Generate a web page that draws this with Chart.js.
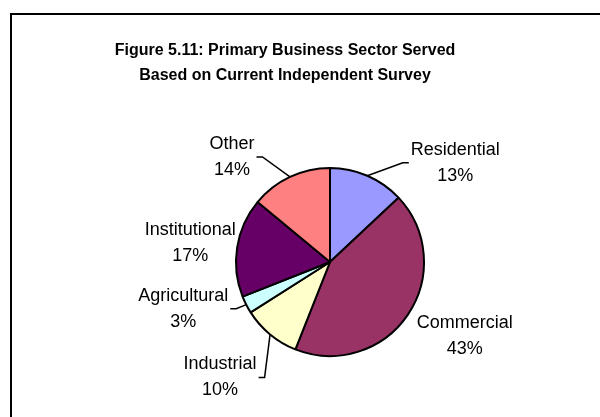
<!DOCTYPE html>
<html>
<head>
<meta charset="utf-8">
<script src="https://cdn.jsdelivr.net/npm/chart.js@4/dist/chart.umd.min.js"></script>
<style>
    body { margin: 0; background: #fff; }
    canvas { display: block; }
</style>
</head>
<body>
<canvas id="myChart" width="600" height="417"></canvas>
<script>
const titleLines = ['Figure 5.11: Primary Business Sector Served', 'Based on Current Independent Survey']
const sectors = ['Residential', 'Commercial', 'Industrial', 'Agricultural', 'Institutional', 'Other']
const shares = [13, 43, 10, 3, 17, 14]

const sliceColors = ['#9999FF', '#993366', '#FFFFCC', '#CCFFFF', '#660066', '#FF8080']
// label block offset from the middle of each slice's outer edge
const labelNudge = [[88, -13], [57, 21], [-50, 43], [-63, 4], [-47, -4], [-58, -20]]
const leader = [true, false, true, true, false, true]

const FONT = '"Liberation Sans", Arial, sans-serif'

// frame and title
const frameAndTitle = {
    id: 'frameAndTitle',
    beforeDraw(chart) {
        const ctx = chart.ctx
        ctx.save()
        ctx.fillStyle = '#fff'
        ctx.fillRect(0, 0, chart.width, chart.height)
        ctx.fillStyle = '#000'
        ctx.fillRect(10, 13, chart.width - 10, 2)
        ctx.fillRect(10, 13, 2, chart.height - 13)
        ctx.font = 'bold 16px ' + FONT
        ctx.textAlign = 'center'
        ctx.textBaseline = 'middle'
        ctx.fillText(titleLines[0], 285, 51)
        ctx.fillText(titleLines[1], 285, 76)
        ctx.restore()
    }
}

// category + percent labels with leader lines
const sectorLabels = {
    id: 'sectorLabels',
    afterDatasetsDraw(chart) {
        const ctx = chart.ctx
        const arcs = chart.getDatasetMeta(0).data
        ctx.save()
        ctx.font = '18px ' + FONT
        ctx.fillStyle = '#000'
        ctx.strokeStyle = '#000'
        ctx.lineWidth = 1.5
        ctx.textAlign = 'center'
        ctx.textBaseline = 'middle'

        for (let i = 0; i < arcs.length; i++) {
            const p = arcs[i].getProps(['x', 'y', 'startAngle', 'endAngle', 'outerRadius'], true)
            const mid = (p.startAngle + p.endAngle) / 2
            const ex = p.x + Math.cos(mid) * p.outerRadius
            const ey = p.y + Math.sin(mid) * p.outerRadius
            const cx = ex + labelNudge[i][0]
            const cy = ey + labelNudge[i][1]
            const lines = [sectors[i], shares[i] + '%']

            ctx.fillText(lines[0], cx, cy - 13)
            ctx.fillText(lines[1], cx, cy + 13)

            if (leader[i]) {
                const w = Math.max(ctx.measureText(lines[0]).width, ctx.measureText(lines[1]).width)
                const side = cx > ex ? -1 : 1
                const edge = cx + side * w / 2
                ctx.beginPath()
                ctx.moveTo(ex, ey)
                ctx.lineTo(edge + side * 8, cy)
                ctx.lineTo(edge + side * 2, cy)
                ctx.stroke()
            }
        }
        ctx.restore()
    }
}

const cfg = {
    type: 'pie',
    data: {
        labels: sectors,
        datasets: [{
            data: shares,
            backgroundColor: sliceColors,
            borderColor: '#000',
            borderWidth: 2,
            radius: 94
        }]
    },
    options: {
        responsive: false,
        animation: false,
        layout: {
            padding: { left: 230, right: 170, top: 156, bottom: 49 }
        },
        plugins: {
            legend: { display: false },
            tooltip: { enabled: false },
            title: { display: false }
        }
    },
    plugins: [frameAndTitle, sectorLabels]
}

const ctx = document.getElementById('myChart').getContext('2d')

// eslint-disable-next-line no-undef
const myChart = new Chart(ctx, cfg)
</script>
</body>
</html>
